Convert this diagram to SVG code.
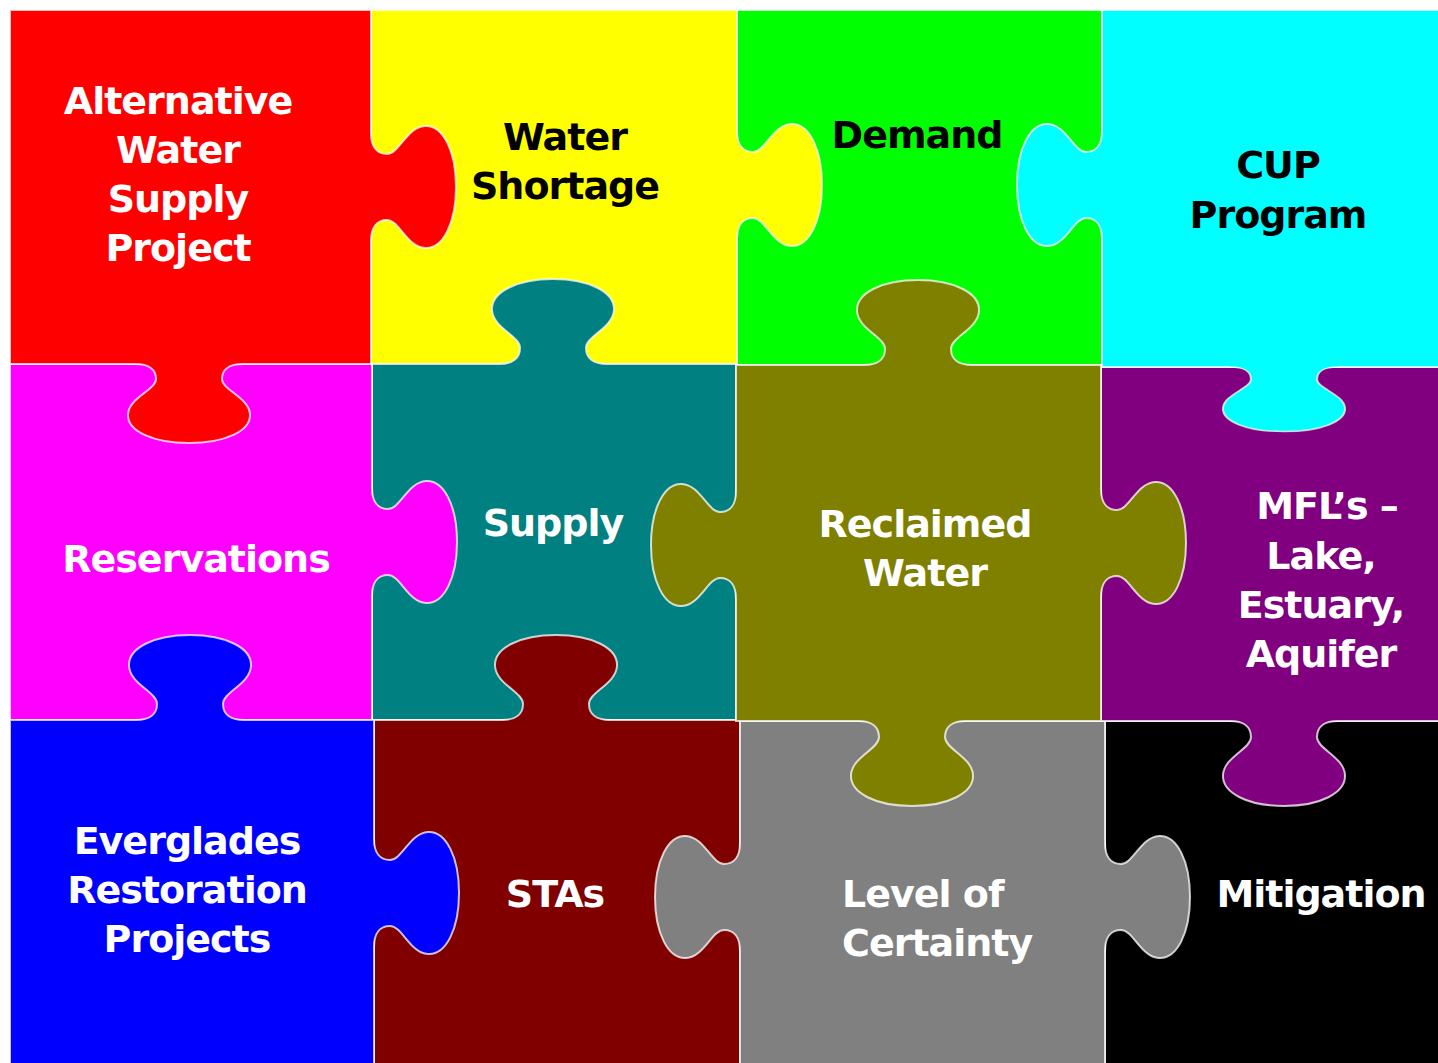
<svg xmlns="http://www.w3.org/2000/svg" xmlns:xlink="http://www.w3.org/1999/xlink" width="1438" height="1063" viewBox="0 0 1438 1063">
  <style>
    .cell { stroke: #ffffff; stroke-opacity: 0.75; stroke-width: 2; }
    .seam { stroke: #ffffff; stroke-opacity: 0.75; stroke-width: 2; fill: none; }
    .lbl { font-family: "DejaVu Sans", Verdana, sans-serif; font-weight: bold; font-size: 38px; letter-spacing: -1px; text-anchor: middle; }
    .w { fill: #ffffff; }
    .k { fill: #000000; }
  </style>
  <defs>
    <!-- knob shape: edge on the u axis, knob grows toward +v -->
    <path id="tabFill" d="M -54,-4 L -54,0 C -40,0 -33,6 -33,16 C -33,28 -60,36 -61,54 C -62,72 -36,85 0,85 C 36,85 62,72 61,54 C 60,36 33,28 33,16 C 33,6 40,0 54,0 L 54,-4 Z"/>
    <path id="tabEdge" fill="none" d="M -54,0 C -40,0 -33,6 -33,16 C -33,28 -60,36 -61,54 C -62,72 -36,85 0,85 C 36,85 62,72 61,54 C 60,36 33,28 33,16 C 33,6 40,0 54,0"/>
  </defs>

  <rect width="1438" height="1063" fill="#ffffff"/>

  <!-- pieces are stacked so every knob sits above the piece it locks into -->
  <g id="piece-demand">
    <rect class="cell" x="737" y="10" width="365" height="355" fill="#00ff00"/>
    <text class="lbl k" x="917" y="148">Demand</text>
  </g>

  <g id="piece-water-shortage">
    <rect class="cell" x="371" y="10" width="366" height="354" fill="#ffff00"/>
    <use href="#tabFill" transform="translate(737,185) rotate(-90)" fill="#ffff00"/>
    <use href="#tabEdge" class="seam" transform="translate(737,185) rotate(-90)"/>
    <text class="lbl k" x="565" y="150">Water</text>
    <text class="lbl k" x="565" y="199">Shortage</text>
  </g>

  <g id="piece-supply">
    <rect class="cell" x="372" y="364" width="364" height="356" fill="#008080"/>
    <use href="#tabFill" transform="translate(553,364) rotate(180)" fill="#008080"/>
    <use href="#tabEdge" class="seam" transform="translate(553,364) rotate(180)"/>
    <text class="lbl w" x="553" y="536">Supply</text>
  </g>

  <g id="piece-stas">
    <rect class="cell" x="374" y="720" width="366" height="350" fill="#800000"/>
    <use href="#tabFill" transform="translate(556,720) rotate(180)" fill="#800000"/>
    <use href="#tabEdge" class="seam" transform="translate(556,720) rotate(180)"/>
    <text class="lbl w" x="555" y="907">STAs</text>
  </g>

  <g id="piece-mitigation">
    <rect class="cell" x="1105" y="721" width="340" height="350" fill="#000000"/>
    <text class="lbl w" x="1321" y="907">Mitigation</text>
  </g>

  <g id="piece-level-of-certainty">
    <rect class="cell" x="740" y="721" width="365" height="350" fill="#808080"/>
    <use href="#tabFill" transform="translate(740,897) rotate(90)" fill="#808080"/>
    <use href="#tabEdge" class="seam" transform="translate(740,897) rotate(90)"/>
    <use href="#tabFill" transform="translate(1105,897) rotate(-90)" fill="#808080"/>
    <use href="#tabEdge" class="seam" transform="translate(1105,897) rotate(-90)"/>
    <text class="lbl w" x="842" y="907" style="text-anchor:start">Level of</text>
    <text class="lbl w" x="842" y="956" style="text-anchor:start">Certainty</text>
  </g>

  <g id="piece-mfls">
    <rect class="cell" x="1101" y="367" width="345" height="354" fill="#800080"/>
    <use href="#tabFill" transform="translate(1284,721) rotate(0)" fill="#800080"/>
    <use href="#tabEdge" class="seam" transform="translate(1284,721) rotate(0)"/>
    <text class="lbl w" x="1327" y="519">MFL’s –</text>
    <text class="lbl w" x="1321" y="569">Lake,</text>
    <text class="lbl w" x="1321" y="618">Estuary,</text>
    <text class="lbl w" x="1321" y="667">Aquifer</text>
  </g>

  <g id="piece-reclaimed-water">
    <rect class="cell" x="736" y="365" width="365" height="356" fill="#808000"/>
    <use href="#tabFill" transform="translate(918,365) rotate(180)" fill="#808000"/>
    <use href="#tabEdge" class="seam" transform="translate(918,365) rotate(180)"/>
    <use href="#tabFill" transform="translate(736,545) rotate(90)" fill="#808000"/>
    <use href="#tabEdge" class="seam" transform="translate(736,545) rotate(90)"/>
    <use href="#tabFill" transform="translate(1101,543) rotate(-90)" fill="#808000"/>
    <use href="#tabEdge" class="seam" transform="translate(1101,543) rotate(-90)"/>
    <use href="#tabFill" transform="translate(912,721) rotate(0)" fill="#808000"/>
    <use href="#tabEdge" class="seam" transform="translate(912,721) rotate(0)"/>
    <text class="lbl w" x="925" y="537">Reclaimed</text>
    <text class="lbl w" x="925" y="586">Water</text>
  </g>

  <g id="piece-cup-program">
    <rect class="cell" x="1102" y="10" width="345" height="357" fill="#00ffff"/>
    <use href="#tabFill" transform="translate(1102,185) rotate(90)" fill="#00ffff"/>
    <use href="#tabEdge" class="seam" transform="translate(1102,185) rotate(90)"/>
    <use href="#tabFill" transform="translate(1284,367) scale(1,0.76)" fill="#00ffff"/>
    <use href="#tabEdge" class="seam" transform="translate(1284,367) scale(1,0.76)"/>
    <text class="lbl k" x="1278" y="178">CUP</text>
    <text class="lbl k" x="1278" y="228">Program</text>
  </g>

  <g id="piece-reservations">
    <rect class="cell" x="10" y="364" width="362" height="356" fill="#ff00ff"/>
    <use href="#tabFill" transform="translate(372,542) rotate(-90)" fill="#ff00ff"/>
    <use href="#tabEdge" class="seam" transform="translate(372,542) rotate(-90)"/>
    <text class="lbl w" x="196" y="572">Reservations</text>
  </g>

  <g id="piece-alternative-water-supply">
    <rect class="cell" x="10" y="10" width="361" height="354" fill="#ff0000"/>
    <use href="#tabFill" transform="translate(371,187) rotate(-90)" fill="#ff0000"/>
    <use href="#tabEdge" class="seam" transform="translate(371,187) rotate(-90)"/>
    <use href="#tabFill" transform="translate(189,364) scale(1,0.93)" fill="#ff0000"/>
    <use href="#tabEdge" class="seam" transform="translate(189,364) scale(1,0.93)"/>
    <text class="lbl w" x="178" y="114">Alternative</text>
    <text class="lbl w" x="178" y="163">Water</text>
    <text class="lbl w" x="178" y="212">Supply</text>
    <text class="lbl w" x="178" y="261">Project</text>
  </g>

  <g id="piece-everglades">
    <rect class="cell" x="10" y="720" width="364" height="350" fill="#0000ff"/>
    <use href="#tabFill" transform="translate(190,720) rotate(180)" fill="#0000ff"/>
    <use href="#tabEdge" class="seam" transform="translate(190,720) rotate(180)"/>
    <use href="#tabFill" transform="translate(374,893) rotate(-90)" fill="#0000ff"/>
    <use href="#tabEdge" class="seam" transform="translate(374,893) rotate(-90)"/>
    <text class="lbl w" x="187" y="854">Everglades</text>
    <text class="lbl w" x="187" y="903">Restoration</text>
    <text class="lbl w" x="187" y="952">Projects</text>
  </g>
</svg>
